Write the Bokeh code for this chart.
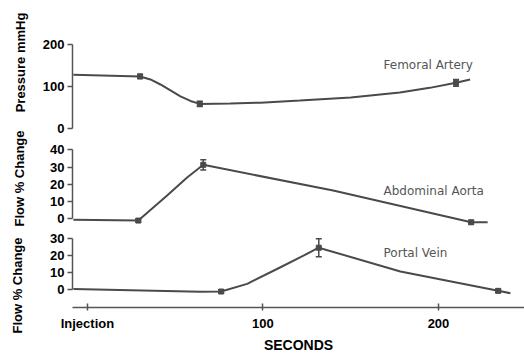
import math
from bokeh.plotting import figure
from bokeh.layouts import column, row
from bokeh.models import Range1d, FixedTicker, Label, Whisker, TeeHead, ColumnDataSource
from bokeh.core.properties import value
from bokeh.embed import file_html
from bokeh.resources import INLINE

# ---------------- data (seconds after injection) ----------------
# Femoral artery pressure (mmHg): traced curve and measured points
fem_t = [-8, 30, 35.9, 41.6, 47.3, 53, 58.7, 64, 81.5, 98.6, 121, 150, 178, 195, 210, 218]
fem_v = [128, 124, 117, 105, 91, 77, 66, 59, 60, 62, 67, 74, 86, 97, 109, 117]
fem_pt_t = [30, 64, 210]
fem_pt_v = [124, 59, 109]
fem_pt_err = [5, 6, 8]

# Abdominal aorta flow (% change)
aor_t = [-8, 29, 45.4, 56.8, 66, 140, 218.6, 228]
aor_v = [-0.5, -1, 13.5, 24, 31.3, 16.4, -2, -2]
aor_pt_t = [29, 66, 218.6]
aor_pt_v = [-1, 31.3, -2]
aor_pt_err = [1, 3, 1]

# Portal vein flow (% change)
por_t = [-8, 64.4, 76.2, 91, 110, 121.4, 131.8, 178.3, 234, 241]
por_v = [0.5, -1.2, -1, 3.5, 13.3, 19.2, 24.8, 10.8, -0.6, -2]
por_pt_t = [76.2, 131.8, 234]
por_pt_v = [-1, 24.8, -0.6]
por_pt_err = [1, 5.3, 1]

x_ticks = [0, 100, 200]
x_tick_labels = {0: "Injection", 100: "100", 200: "200"}
series_names = ["Femoral Artery", "Abdominal Aorta", "Portal Vein"]
y_titles = ["Pressure mmHg", "Flow % Change", "Flow % Change"]

# ---------------- styling ----------------
LINE = "#4a4a4a"
AX = "#555555"
FONT = "Liberation Sans"
PANEL_W = 494

x_range = Range1d(-8.5, 249)


def make_panel(height, y_start, y_end, yticks, top, bottom, with_x):
    p = figure(width=PANEL_W, height=height, x_range=x_range,
               y_range=Range1d(y_start, y_end),
               output_backend="svg", toolbar_location=None,
               x_axis_location="below" if with_x else None,
               min_border_left=42, min_border_right=0,
               min_border_top=top, min_border_bottom=bottom)
    p.outline_line_color = None
    p.xgrid.visible = False
    p.ygrid.visible = False
    p.background_fill_color = "white"
    p.border_fill_color = "white"
    ya = p.yaxis[0]
    ya.ticker = FixedTicker(ticks=yticks)
    ya.bounds = (yticks[0], yticks[-1])
    ya.axis_line_color = AX
    ya.axis_line_width = 1.5
    ya.major_tick_line_color = AX
    ya.major_tick_line_width = 1.5
    ya.major_tick_in = 0
    ya.major_tick_out = 5
    ya.minor_tick_line_color = None
    ya.major_label_text_font = FONT
    ya.major_label_text_font_style = "bold"
    ya.major_label_text_font_size = "13px"
    ya.major_label_text_color = "black"
    ya.major_label_standoff = 3
    return p


def draw_series(p, t, v, pt_t, pt_v, pt_err):
    p.line(t, v, line_color=LINE, line_width=2)
    src = ColumnDataSource(dict(x=pt_t, y=pt_v,
                                lo=[a - e for a, e in zip(pt_v, pt_err)],
                                hi=[a + e for a, e in zip(pt_v, pt_err)]))
    p.scatter("x", "y", source=src, marker="square", size=5,
              fill_color=LINE, line_color=LINE)
    w = Whisker(base="x", lower="lo", upper="hi", source=src, dimension="height",
                line_color=LINE, line_width=1.5,
                lower_head=TeeHead(size=6, line_color=LINE, line_width=1.5),
                upper_head=TeeHead(size=6, line_color=LINE, line_width=1.5))
    p.add_layout(w)


def series_label(p, text, x, y):
    p.add_layout(Label(x=x, y=y, text=text, text_align="left",
                       text_baseline="middle", text_font="DejaVu Sans",
                       text_font_size="12px", text_color="#555555"))


# Panel 1: femoral artery pressure
p1 = make_panel(135, -15.9, 251.9, [0, 100, 200], 22, 0, False)
draw_series(p1, fem_t, fem_v, fem_pt_t, fem_pt_v, fem_pt_err)
series_label(p1, series_names[0], 168.7, 151)

# Panel 2: abdominal aorta flow
p2 = make_panel(93, -5.6, 48.3, [0, 10, 20, 30, 40], 0, 0, False)
draw_series(p2, aor_t, aor_v, aor_pt_t, aor_pt_v, aor_pt_err)
series_label(p2, series_names[1], 168.7, 16.4)

# Panel 3: portal vein flow, with the time axis
p3 = make_panel(127, -10.4, 36.1, [0, 10, 20, 30], 0, 48, True)
draw_series(p3, por_t, por_v, por_pt_t, por_pt_v, por_pt_err)
series_label(p3, series_names[2], 168.7, 21.4)

xa = p3.xaxis[0]
xa.ticker = FixedTicker(ticks=x_ticks)
xa.major_label_overrides = x_tick_labels
xa.axis_line_color = AX
xa.axis_line_width = 1.5
xa.major_tick_line_color = AX
xa.major_tick_line_width = 1.5
xa.major_tick_in = 4
xa.major_tick_out = 3
xa.minor_tick_line_color = None
xa.major_label_standoff = 5
xa.major_label_text_font = FONT
xa.major_label_text_font_style = "bold"
xa.major_label_text_font_size = "13px"
xa.major_label_text_color = "black"
xa.axis_label = "SECONDS"
xa.axis_label_standoff = 3
xa.axis_label_text_font = FONT
xa.axis_label_text_font_style = "bold"
xa.axis_label_text_font_size = "14px"
xa.axis_label_text_color = "black"

# Left strip holding the rotated y-axis titles (page pixel coordinates)
lab = figure(width=30, height=355, x_range=Range1d(0, 30), y_range=Range1d(355, 0),
             output_backend="svg", toolbar_location=None,
             x_axis_location=None, y_axis_location=None,
             min_border_left=0, min_border_right=0,
             min_border_top=0, min_border_bottom=0)
lab.outline_line_color = None
lab.xgrid.visible = False
lab.ygrid.visible = False
lab.text(x=[19.5, 19, 17], y=[62, 178, 285], text=y_titles, angle=math.pi / 2,
         text_align="center", text_baseline="middle",
         text_font=value(FONT), text_font_style="bold",
         text_font_size="13px", text_color="black")

layout = row(lab, column(p1, p2, p3, spacing=0), spacing=0)
open("out.html", "w").write(file_html(layout, INLINE))
